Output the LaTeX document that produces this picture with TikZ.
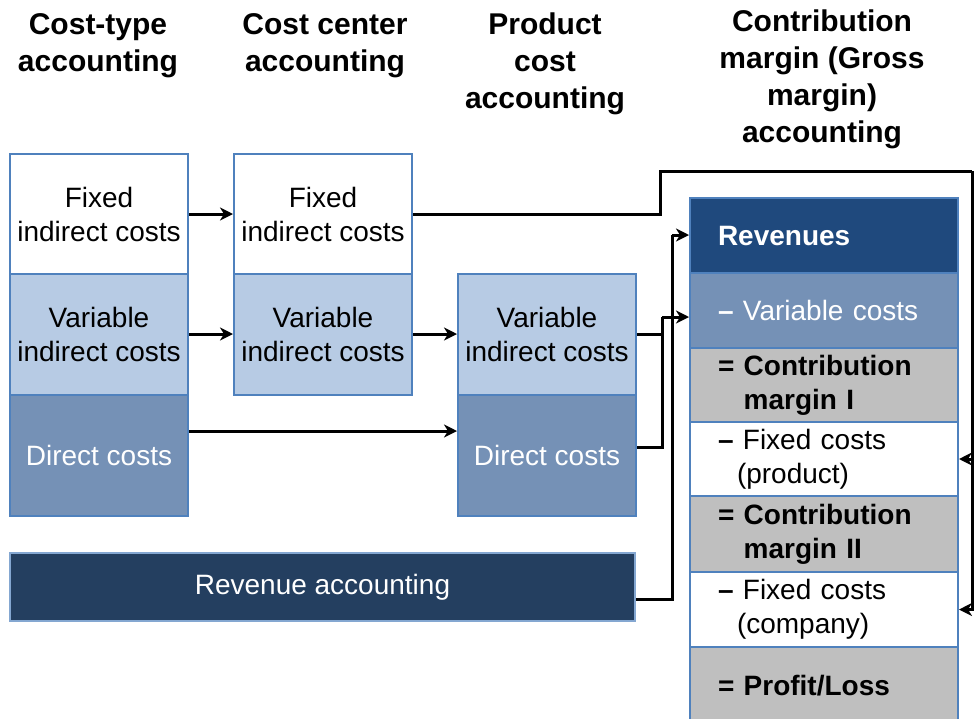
\documentclass[tikz,border=0pt]{standalone}
\usepackage{fontspec}
\setmainfont{Liberation Sans}
\usetikzlibrary{arrows.meta}
\definecolor{bordblue}{HTML}{4F81BD}
\definecolor{lightblue}{HTML}{B7CBE4}
\definecolor{midblue}{HTML}{7591B6}
\definecolor{darkblue}{HTML}{1F497D}
\definecolor{navy}{HTML}{243F60}
\definecolor{greybox}{HTML}{BFBFBF}
\begin{document}
\begin{tikzpicture}[x=1pt,y=-1pt,
  box/.style={draw=bordblue, line width=2pt, inner sep=0pt, anchor=north west,
    align=center, minimum width=178pt, minimum height=121pt,
    font=\fontsize{28}{34}\selectfont},
  rbox/.style={draw=bordblue, line width=2pt, anchor=north west, inner xsep=28pt,
    inner ysep=0pt, text width=212pt, align=left, minimum width=268pt,
    font=\fontsize{28}{34}\selectfont},
  head/.style={anchor=north, inner sep=0pt, align=center,
    font=\fontsize{30}{37}\selectfont\bfseries},
  conn/.style={line width=3pt, draw=black},
  arr/.style={conn, -{Stealth[length=13pt,width=13pt,inset=4pt]}}
]
\useasboundingbox (0,0) rectangle (974,718);

% headers
\node[head] (h1) at (98,13) {Cost-type\\accounting};
\node[head] (h2) at (325,13) {Cost center\\accounting};
\node[head] (h3) at (545,13) {Product\\cost\\accounting};
\node[head] (h4) at (822,10) {Contribution\\margin (Gross\\margin)\\accounting};

% column 1
\node[box, fill=white, minimum height=120pt] (f1) at (9,153) {Fixed\\indirect costs};
\node[box, fill=lightblue] (v1) at (9,273) {Variable\\indirect costs};
\node[box, fill=midblue, text=white] (d1) at (9,394) {Direct costs};

% column 2
\node[box, fill=white, minimum height=120pt] (f2) at (233,153) {Fixed\\indirect costs};
\node[box, fill=lightblue] (v2) at (233,273) {Variable\\indirect costs};

% column 3
\node[box, fill=lightblue] (v3) at (457,273) {Variable\\indirect costs};
\node[box, fill=midblue, text=white] (d3) at (457,394) {Direct costs};

% revenue accounting
\node[box, fill=navy, text=white, minimum width=625pt, minimum height=68pt,
  draw=bordblue!70] (ra) at (9,552) {Revenue accounting};

% right column
\node[rbox, fill=darkblue, text=white, minimum height=75pt, font=\fontsize{28}{34}\selectfont\bfseries] (rev) at (689,197) {Revenues};
\node[rbox, fill=midblue, text=white, minimum height=75pt] (var) at (689,272) {\textbf{–} Variable costs};
\node[rbox, fill=greybox, minimum height=74pt, font=\fontsize{28}{34}\selectfont\bfseries] (cm1) at (689,347) {= Contribution\\\phantom{= }margin I};
\node[rbox, fill=white, minimum height=74pt] (fcp) at (689,421) {\textbf{–} Fixed costs\\\hspace*{19pt}(product)};
\node[rbox, fill=greybox, minimum height=76pt, font=\fontsize{28}{34}\selectfont\bfseries] (cm2) at (689,495) {= Contribution\\\phantom{= }margin II};
\node[rbox, fill=white, minimum height=75pt] (fcc) at (689,571) {\textbf{–} Fixed costs\\\hspace*{19pt}(company)};
\node[rbox, fill=greybox, minimum height=78pt, font=\fontsize{28}{34}\selectfont\bfseries] (pl) at (689,646) {= Profit/Loss};

% connectors
\draw[arr] (f1.east) -- (f2.east -| f2.west);
\draw[arr] (v1.east |- 0,334) -- (v2.west |- 0,334);
\draw[arr] (v2.east |- 0,334) -- (v3.west |- 0,334);
\draw[arr] (d1.east |- 0,431) -- (d3.west |- 0,431);

\coordinate (t1) at (660,171);
\coordinate (t2) at (972,171);
\draw[conn] (f2.east) -| (t1) -- (t2);
\draw[arr] (t2) |- (fcc.east);
\draw[arr] (t2 |- fcp.east) -- (fcp.east);

\coordinate (j1) at (662,317);
\draw[conn] (v3.east |- 0,334) -| (j1);
\draw[conn] ([yshift=8pt]d3.east) -| (j1);
\draw[arr] (j1) -- (var.west |- j1);

\coordinate (j2) at (672,235);
\draw[conn] ([yshift=-12pt]ra.east) -| (j2);
\draw[arr] (j2) -- (rev.west |- j2);
\end{tikzpicture}
\end{document}
